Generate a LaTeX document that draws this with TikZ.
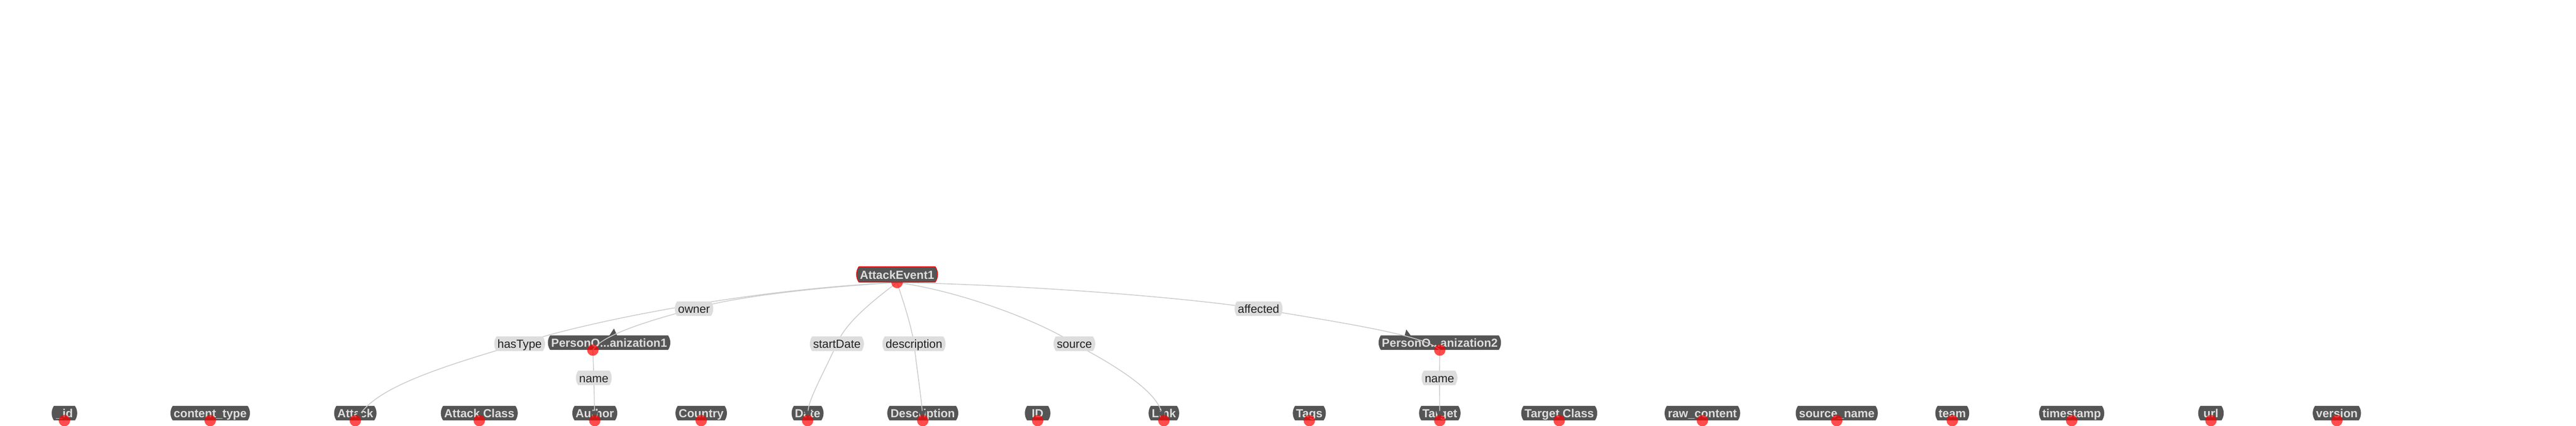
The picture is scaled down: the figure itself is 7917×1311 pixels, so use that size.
\documentclass[tikz,border=0pt]{standalone}
\usepackage{fontspec}
\setmainfont{Liberation Sans}
\usetikzlibrary{arrows.meta,shapes.misc}

\definecolor{boxgray}{RGB}{85,85,85}
\definecolor{boxtext}{RGB}{221,221,221}
\definecolor{lblgray}{RGB}{221,221,221}
\definecolor{lbltext}{RGB}{34,34,34}
\definecolor{edgegray}{RGB}{204,204,204}

\pgfdeclarelayer{back}
\pgfdeclarelayer{front}
\pgfsetlayers{back,main,front}

\tikzset{every picture/.style={line width=1.25pt}}
\tikzset{
  entity/.style={rounded rectangle, rounded rectangle arc length=70, fill=boxgray, text=boxtext,
    font=\fontsize{18}{20}\selectfont\bfseries, inner xsep=1.5pt, inner ysep=0pt, text height=18pt, text depth=4.5pt},
  rootentity/.style={entity, draw=red, line width=1pt, text height=19pt, text depth=5pt},
  relation/.style={rounded rectangle, rounded rectangle arc length=70, fill=lblgray, text=lbltext,
    font=\fontsize{18}{20}\selectfont, inner xsep=1.5pt, inner ysep=0pt, text height=18pt, text depth=4.5pt},
  link/.style={draw=edgegray, line width=1.25pt},
  leaflink/.style={link, -{Triangle[length=15pt,width=11pt,fill=boxgray,color=boxgray]}},
  pin/.style={circle, fill=red, fill opacity=0.7, draw=none, minimum size=17.5pt, inner sep=0pt}
}

\begin{document}
\begin{tikzpicture}[x=0.5pt,y=0.5pt,yscale=-1,xscale=1]
%set diagram size: 7917 x 1311
\path[use as bounding box] (0,0) rectangle (7917,1311);

\begin{pgfonlayer}{back}
% Entity Nodes (bottom row)
\node[entity] (idNode) at (198,1271.5) {\_id};
\node[entity] (contentType) at (646,1271.5) {content\_type};
\node[entity] (attack) at (1092,1271.5) {Attack};
\node[entity] (attackClass) at (1473,1271.5) {Attack Class};
\node[entity] (author) at (1828,1271.5) {Author};
\node[entity] (country) at (2155,1271.5) {Country};
\node[entity] (date) at (2482,1271.5) {Date};
\node[entity] (descNode) at (2836,1271.5) {Description};
\node[entity] (ID) at (3189,1271.5) {ID};
\node[entity] (link) at (3577,1271.5) {Link};
\node[entity] (tags) at (4024,1271.5) {Tags};
\node[entity] (target) at (4425,1271.5) {Target};
\node[entity] (targetClass) at (4792,1271.5) {Target Class};
\node[entity] (rawContent) at (5232,1271.5) {raw\_content};
\node[entity] (sourceName) at (5645,1271.5) {source\_name};
\node[entity] (team) at (6000,1271.5) {team};
\node[entity] (timestamp) at (6367,1271.5) {timestamp};
\node[entity] (url) at (6795,1271.5) {url};
\node[entity] (version) at (7182,1271.5) {version};
% Entity Nodes (middle row)
\node[entity] (po1) at (1872,1054.5) {PersonO...anization1};
\node[entity] (po2) at (4425,1054.5) {PersonO...anization2};
%Shape: Triangle
\fill[boxgray] (1868,1040) -- (1887,1011) -- (1900,1040) -- cycle;
\fill[boxgray] (4315,1040) -- (4322,1014) -- (4341,1040) -- cycle;
\end{pgfonlayer}

\coordinate (ae-pin) at (2757,869.5);
\coordinate (po1-pin) at ([xshift=-25pt]po1.south);

\begin{pgfonlayer}{front}
% Text Node
\node[relation] (owner) at (2133,950) {owner};
\node[relation] (affected) at (3868,950) {affected};
\node[relation] (hasType) at (1597,1058) {hasType};
\node[relation] (startDate) at (2572,1058) {startDate};
\node[relation] (description) at (2809,1058) {description};
\node[relation] (source) at (3302,1058) {source};
\node[relation] (name1) at (1825,1163) {name};
\node[relation] (name2) at (4424,1163) {name};
\end{pgfonlayer}

%Curve Lines
\draw[leaflink] (ae-pin) .. controls (2300,890) and (1800,990) .. (hasType.center) .. controls (1350,1130) and (1170,1190) .. (attack.south);
\draw[link] (ae-pin) .. controls (2500,885) and (2250,915) .. (owner.center) .. controls (2000,985) and (1850,1030) .. (po1-pin);
\draw[leaflink] (ae-pin) .. controls (2690,920) and (2600,990) .. (startDate.center) .. controls (2530,1150) and (2485,1230) .. (date.south);
\draw[leaflink] (ae-pin) .. controls (2780,940) and (2800,1000) .. (description.center) .. controls (2820,1150) and (2832,1230) .. (descNode.south);
\draw[leaflink] (ae-pin) .. controls (2950,895) and (3200,990) .. (source.center) .. controls (3420,1120) and (3550,1200) .. (link.south);
\draw[link] (ae-pin) .. controls (3100,875) and (3600,910) .. (affected.center) .. controls (4100,990) and (4380,1030) .. (po2.south);
%Straight Lines
\draw[leaflink] (po1-pin) -- (name1.center) -- (author.south);
\draw[leaflink] (po2.south) -- (name2.center) -- (target.south);

\begin{pgfonlayer}{front}
%Shape: Circle
\node[pin] (ae-dot) at (ae-pin) {};
\node[pin] (po1-dot) at (po1-pin) {};
\node[pin] (po2-dot) at (po2.south) {};
\node[pin] (idNode-dot) at (idNode.south) {};
\node[pin] (contentType-dot) at (contentType.south) {};
\node[pin] (attack-dot) at (attack.south) {};
\node[pin] (attackClass-dot) at (attackClass.south) {};
\node[pin] (author-dot) at (author.south) {};
\node[pin] (country-dot) at (country.south) {};
\node[pin] (date-dot) at (date.south) {};
\node[pin] (descNode-dot) at (descNode.south) {};
\node[pin] (ID-dot) at (ID.south) {};
\node[pin] (link-dot) at (link.south) {};
\node[pin] (tags-dot) at (tags.south) {};
\node[pin] (target-dot) at (target.south) {};
\node[pin] (targetClass-dot) at (targetClass.south) {};
\node[pin] (rawContent-dot) at (rawContent.south) {};
\node[pin] (sourceName-dot) at (sourceName.south) {};
\node[pin] (team-dot) at (team.south) {};
\node[pin] (timestamp-dot) at (timestamp.south) {};
\node[pin] (url-dot) at (url.south) {};
\node[pin] (version-dot) at (version.south) {};
% Text Node
\node[rootentity, anchor=south] (ae) at (ae-pin) {AttackEvent1};
\end{pgfonlayer}

\end{tikzpicture}
\end{document}
